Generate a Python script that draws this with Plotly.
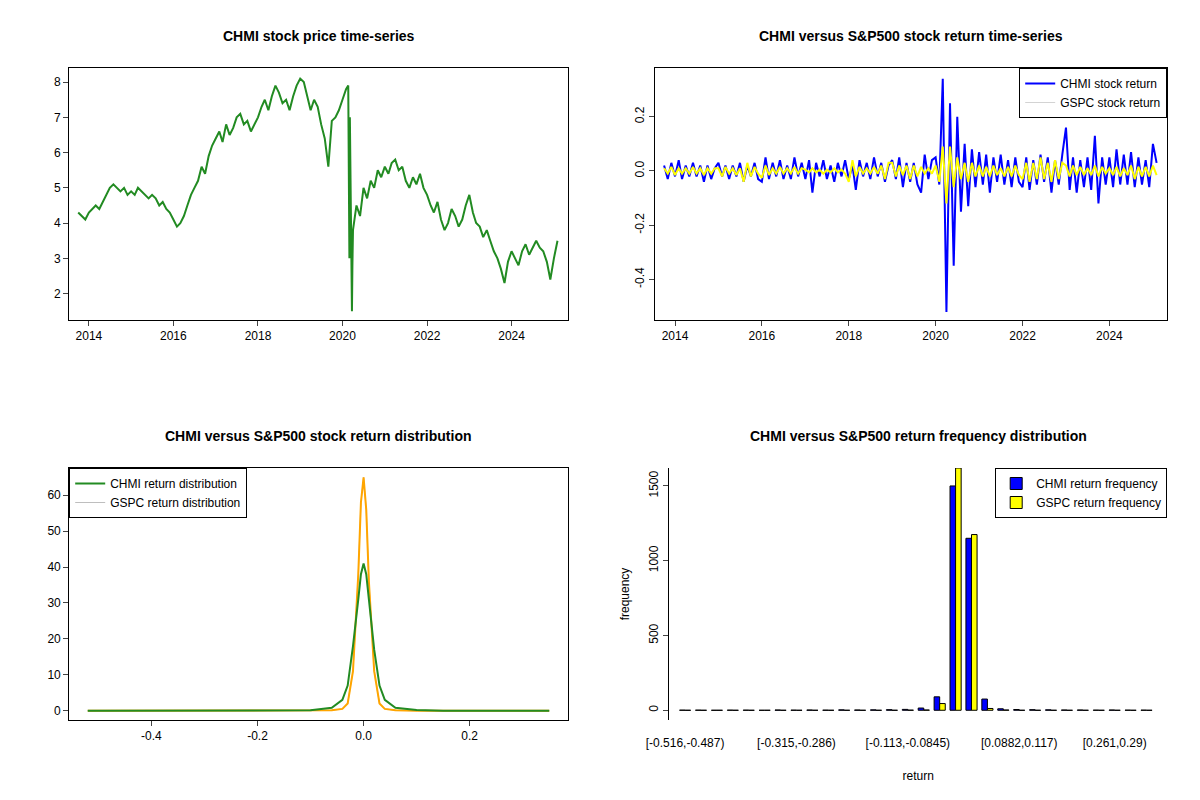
import pandas as pd
import plotly.graph_objects as go

# ---------- data ----------
month_dates = pd.date_range("2013-10-01", "2025-02-01", freq="MS")

chmi_price = [4.3, 4.2, 4.1,
    4.3, 4.4, 4.5, 4.4, 4.6, 4.8, 5.0, 5.1, 5.0, 4.9, 5.0, 4.8,
    4.9, 4.8, 5.0, 4.9, 4.8, 4.7, 4.8, 4.7, 4.5, 4.6, 4.4, 4.3,
    4.1, 3.9, 4.0, 4.2, 4.5, 4.8, 5.0, 5.2, 5.6, 5.4, 5.9, 6.2,
    6.4, 6.6, 6.3, 6.8, 6.5, 6.7, 7.0, 7.1, 6.8, 6.9, 6.6, 6.8,
    7.0, 7.3, 7.5, 7.2, 7.6, 7.9, 7.7, 7.4, 7.5, 7.2, 7.6, 7.9,
    8.1, 8.0, 7.6, 7.2, 7.5, 7.3, 6.8, 6.4, 5.6, 6.9, 7.0, 7.2,
    7.5, 7.8, 3.0, 3.8, 4.5, 4.2, 5.0, 4.7, 5.2, 5.0, 5.5, 5.3,
    5.6, 5.4, 5.7, 5.8, 5.5, 5.6, 5.2, 5.0, 5.3, 5.1, 5.4, 5.0,
    4.8, 4.5, 4.3, 4.6, 4.1, 3.8, 4.0, 4.4, 4.2, 3.9, 4.1, 4.5,
    4.8, 4.3, 4.0, 3.9, 3.6, 3.8, 3.5, 3.2, 3.0, 2.7, 2.3, 2.9,
    3.2, 3.0, 2.8, 3.2, 3.4, 3.1, 3.3, 3.5, 3.3, 3.2, 2.9, 2.4,
    3.0, 3.5]
crash_dates = ["2020-02-20", "2020-03-05", "2020-03-12", "2020-03-18", "2020-03-23", "2020-03-27"]
crash_price = [7.9, 7.0, 4.0, 2.3, 1.5, 2.8]

chmi_ret = [0.02, -0.03, 0.03,
    -0.02, 0.04, -0.03, 0.02, -0.02, 0.03, -0.02, 0.02, -0.04, 0.02, -0.03, 0.01,
    0.03, -0.02, 0.02, -0.03, 0.02, -0.02, 0.03, -0.04, 0.02, -0.02, 0.03, -0.03,
    -0.04, 0.05, -0.03, 0.03, -0.02, 0.04, -0.03, 0.02, -0.03, 0.05, -0.02, 0.03,
    -0.03, 0.04, -0.08, 0.03, -0.02, 0.04, -0.03, 0.02, -0.04, 0.03, -0.02, 0.04,
    -0.03, 0.02, -0.07, 0.04, -0.02, 0.03, -0.03, 0.05, -0.02, 0.03, -0.04, 0.02,
    0.04, -0.03, 0.05, -0.06, 0.03, -0.04, 0.03, -0.05, -0.08, 0.06, -0.03, 0.04,
    0.05, -0.05, 0.34, -0.52, 0.25, -0.35, 0.2, -0.15, 0.1, -0.13, 0.08, -0.06,
    0.07, -0.05, 0.06, -0.08, 0.05, -0.04, 0.06, -0.05, 0.04, -0.06, 0.05, -0.04,
    -0.06, 0.05, -0.07, 0.04, -0.05, 0.06, -0.04, 0.05, -0.08, 0.04, -0.05, 0.06,
    0.16, -0.07, 0.05, -0.08, 0.04, -0.06, 0.05, -0.07, 0.13, -0.12, 0.05, -0.05,
    0.05, -0.06, 0.08, -0.05, 0.06, -0.05, 0.07, -0.06, 0.05, -0.05, 0.04, -0.06,
    0.1, 0.03]
gspc_ret = [0.01, -0.01, 0.015,
    -0.015, 0.01, -0.01, 0.01, -0.01, 0.015, -0.01, 0.01, -0.015, 0.01, -0.01, 0.01,
    0.01, -0.02, 0.015, -0.01, 0.01, -0.015, 0.01, -0.04, 0.03, -0.02, 0.015, -0.01,
    -0.025, 0.02, -0.015, 0.01, -0.01, 0.015, -0.01, 0.01, -0.01, 0.015, -0.01, 0.01,
    0.005, -0.005, 0.01, -0.005, 0.005, -0.01, 0.005, -0.005, 0.01, -0.005, 0.005, -0.01,
    -0.04, 0.04, -0.02, 0.015, -0.01, 0.01, -0.01, 0.015, -0.01, 0.02, -0.03, 0.03,
    0.03, -0.02, 0.02, -0.015, 0.02, -0.03, 0.02, -0.02, 0.015, -0.01, 0.01, -0.01,
    0.02, -0.04, 0.09, -0.12, 0.09, -0.06, 0.05, -0.03, 0.03, -0.04, 0.03, -0.02,
    0.02, -0.02, 0.015, -0.02, 0.02, -0.015, 0.01, -0.02, 0.015, -0.02, 0.02, -0.015,
    -0.03, 0.03, -0.04, 0.03, -0.03, 0.05, -0.03, 0.03, -0.04, 0.04, -0.03, 0.03,
    0.02, -0.02, 0.02, -0.015, 0.015, -0.015, 0.01, -0.015, 0.02, -0.02, 0.015, -0.01,
    0.01, -0.015, 0.015, -0.02, 0.01, -0.015, 0.02, -0.03, 0.015, -0.02, 0.015, -0.02,
    0.02, -0.015]

dens_x = [-0.52, -0.15, -0.1, -0.06, -0.04, -0.03, -0.02, -0.01, -0.005, 0, 0.005, 0.01, 0.02, 0.03, 0.04, 0.06, 0.1, 0.15, 0.35]
chmi_dens = [0, 0, 0.1, 0.8, 3, 7, 18, 31, 38, 41, 38, 31, 17, 7, 3, 0.8, 0.2, 0, 0]
gspc_dens = [0, 0, 0, 0.1, 0.5, 2, 11, 38, 58, 65, 56, 36, 11, 2, 0.5, 0.1, 0, 0, 0]

bin_idx = list(range(30))
chmi_freq = [1, 1, 0, 1, 1, 0, 2, 1, 2, 1, 3, 2, 3, 4, 6, 15, 90, 1500, 1150, 75,
             10, 5, 4, 3, 2, 2, 1, 2, 1, 1]
gspc_freq = [0, 0, 0, 0, 0, 0, 0, 0, 0, 0, 0, 0, 0, 0, 1, 2, 45, 1620, 1175, 12,
             2, 0, 0, 0, 0, 0, 0, 0, 0, 0]
bin_ticks = [0, 7, 14, 21, 27]
bin_labels = ["[-0.516,-0.487)", "[-0.315,-0.286)", "[-0.113,-0.0845)", "[0.0882,0.117)", "[0.261,0.29)"]

# price series with crash days merged in
px = pd.Series(chmi_price, index=month_dates)
px = pd.concat([px, pd.Series(crash_price, index=pd.to_datetime(crash_dates))]).sort_index()
rx = pd.DataFrame({"c": chmi_ret, "g": gspc_ret}, index=month_dates)

fig = go.Figure()
fig.add_trace(go.Scatter(x=px.index, y=px.values, mode="lines", line=dict(color="#228B22", width=2),
                         showlegend=False, xaxis="x", yaxis="y"))
fig.add_trace(go.Scatter(x=rx.index, y=rx.c, mode="lines", line=dict(color="blue", width=2),
                         name="CHMI stock return", xaxis="x2", yaxis="y2", legend="legend"))
fig.add_trace(go.Scatter(x=rx.index, y=rx.g, mode="lines", line=dict(color="yellow", width=2),
                         name="GSPC stock return", xaxis="x2", yaxis="y2", legend="legend",
                         showlegend=False))
fig.add_trace(go.Scatter(x=[None], y=[None], mode="lines", line=dict(color="#d3d3d3", width=1),
                         name="GSPC stock return", xaxis="x2", yaxis="y2", legend="legend"))
fig.add_trace(go.Scatter(x=dens_x, y=gspc_dens, mode="lines", line=dict(color="#bebebe", width=1),
                         showlegend=False, xaxis="x3", yaxis="y3"))
fig.add_trace(go.Scatter(x=dens_x, y=gspc_dens, mode="lines", line=dict(color="orange", width=2),
                         showlegend=False, xaxis="x3", yaxis="y3"))
fig.add_trace(go.Scatter(x=dens_x, y=chmi_dens, mode="lines", line=dict(color="#228B22", width=2),
                         name="CHMI return distribution", xaxis="x3", yaxis="y3", legend="legend2"))
fig.add_trace(go.Scatter(x=[None], y=[None], mode="lines", line=dict(color="#bebebe", width=1),
                         name="GSPC return distribution", xaxis="x3", yaxis="y3", legend="legend2"))
fig.add_trace(go.Bar(x=bin_idx, y=chmi_freq, marker=dict(color="blue", line=dict(color="black", width=1)),
                     name="CHMI return frequency", xaxis="x4", yaxis="y4", legend="legend3"))
fig.add_trace(go.Bar(x=bin_idx, y=gspc_freq, marker=dict(color="yellow", line=dict(color="black", width=1)),
                     name="GSPC return frequency", xaxis="x4", yaxis="y4", legend="legend3"))

ax = dict(showline=True, linecolor="black", mirror=True, ticks="outside", showgrid=False,
          zeroline=False, tickfont=dict(size=12, color="black"))
yrs = [f"{y}-01-01" for y in range(2014, 2026, 2)]
yrl = [str(y) for y in range(2014, 2026, 2)]
leg = dict(bordercolor="black", borderwidth=1, bgcolor="white", font=dict(size=12),
           tracegroupgap=0)

xl = [0.051, 0.4665]
xr = [0.539, 0.966]
yt = [0.61, 0.925]
yb = [0.11, 0.425]

fig.update_layout(
    width=1200, height=800, plot_bgcolor="white", paper_bgcolor="white",
    font=dict(family="Liberation Sans, Arial", color="black"),
    margin=dict(l=0, r=0, t=0, b=0, autoexpand=False), barmode="group", bargap=0.3, bargroupgap=0,
    xaxis=dict(ax, domain=xl, anchor="y", tickvals=yrs, ticktext=yrl,
               range=["2013-07-15", "2025-05-01"]),
    yaxis=dict(ax, domain=yt, anchor="x", range=[1.25, 8.4], dtick=1),
    xaxis2=dict(ax, domain=xr, anchor="y2", tickvals=yrs, ticktext=yrl,
                range=["2013-07-15", "2025-05-01"]),
    yaxis2=dict(ax, domain=yt, anchor="x2", range=[-0.55, 0.38],
                tickvals=[-0.4, -0.2, 0, 0.2], ticktext=["-0.4", "-0.2", "0.0", "0.2"], tickangle=-90),
    xaxis3=dict(ax, domain=xl, anchor="y3", range=[-0.555, 0.385],
                tickvals=[-0.4, -0.2, 0, 0.2], ticktext=["-0.4", "-0.2", "0.0", "0.2"]),
    yaxis3=dict(ax, domain=yb, anchor="x3", range=[-2.6, 67.6], dtick=10),
    xaxis4=dict(ax, domain=[0.551, 0.966], anchor="y4", range=[-1, 30.3], showline=False,
                mirror=False, ticks="", tickvals=bin_ticks, ticktext=bin_labels, ticklabelstandoff=14,
                title=dict(text="return", font=dict(size=12), standoff=22)),
    yaxis4=dict(ax, domain=yb, anchor="x4", range=[-65, 1620], mirror=False,
                tickvals=[0, 500, 1000, 1500], tickangle=-90,
                title=dict(text="frequency", font=dict(size=12))),
    legend=dict(leg, x=xr[1], y=yt[1], xanchor="right", yanchor="top"),
    legend2=dict(leg, x=xl[0], y=yb[1], xanchor="left", yanchor="top"),
    legend3=dict(leg, x=xr[1], y=yb[1], xanchor="right", yanchor="top"),
)

titles = [("CHMI stock price time-series", "x"),
          ("CHMI versus S&P500 stock return time-series", "x2"),
          ("CHMI versus S&P500 stock return distribution", "x3"),
          ("CHMI versus S&P500 return frequency distribution", "x4")]
for i, (t, xa) in enumerate(titles):
    fig.add_annotation(text=f"<b>{t}</b>", x=0.5, y=0.965 if i < 2 else 0.465, yanchor="middle",
                       xref=f"{xa} domain", yref="paper", showarrow=False, font=dict(size=14))

fig.write_html("out.html")
